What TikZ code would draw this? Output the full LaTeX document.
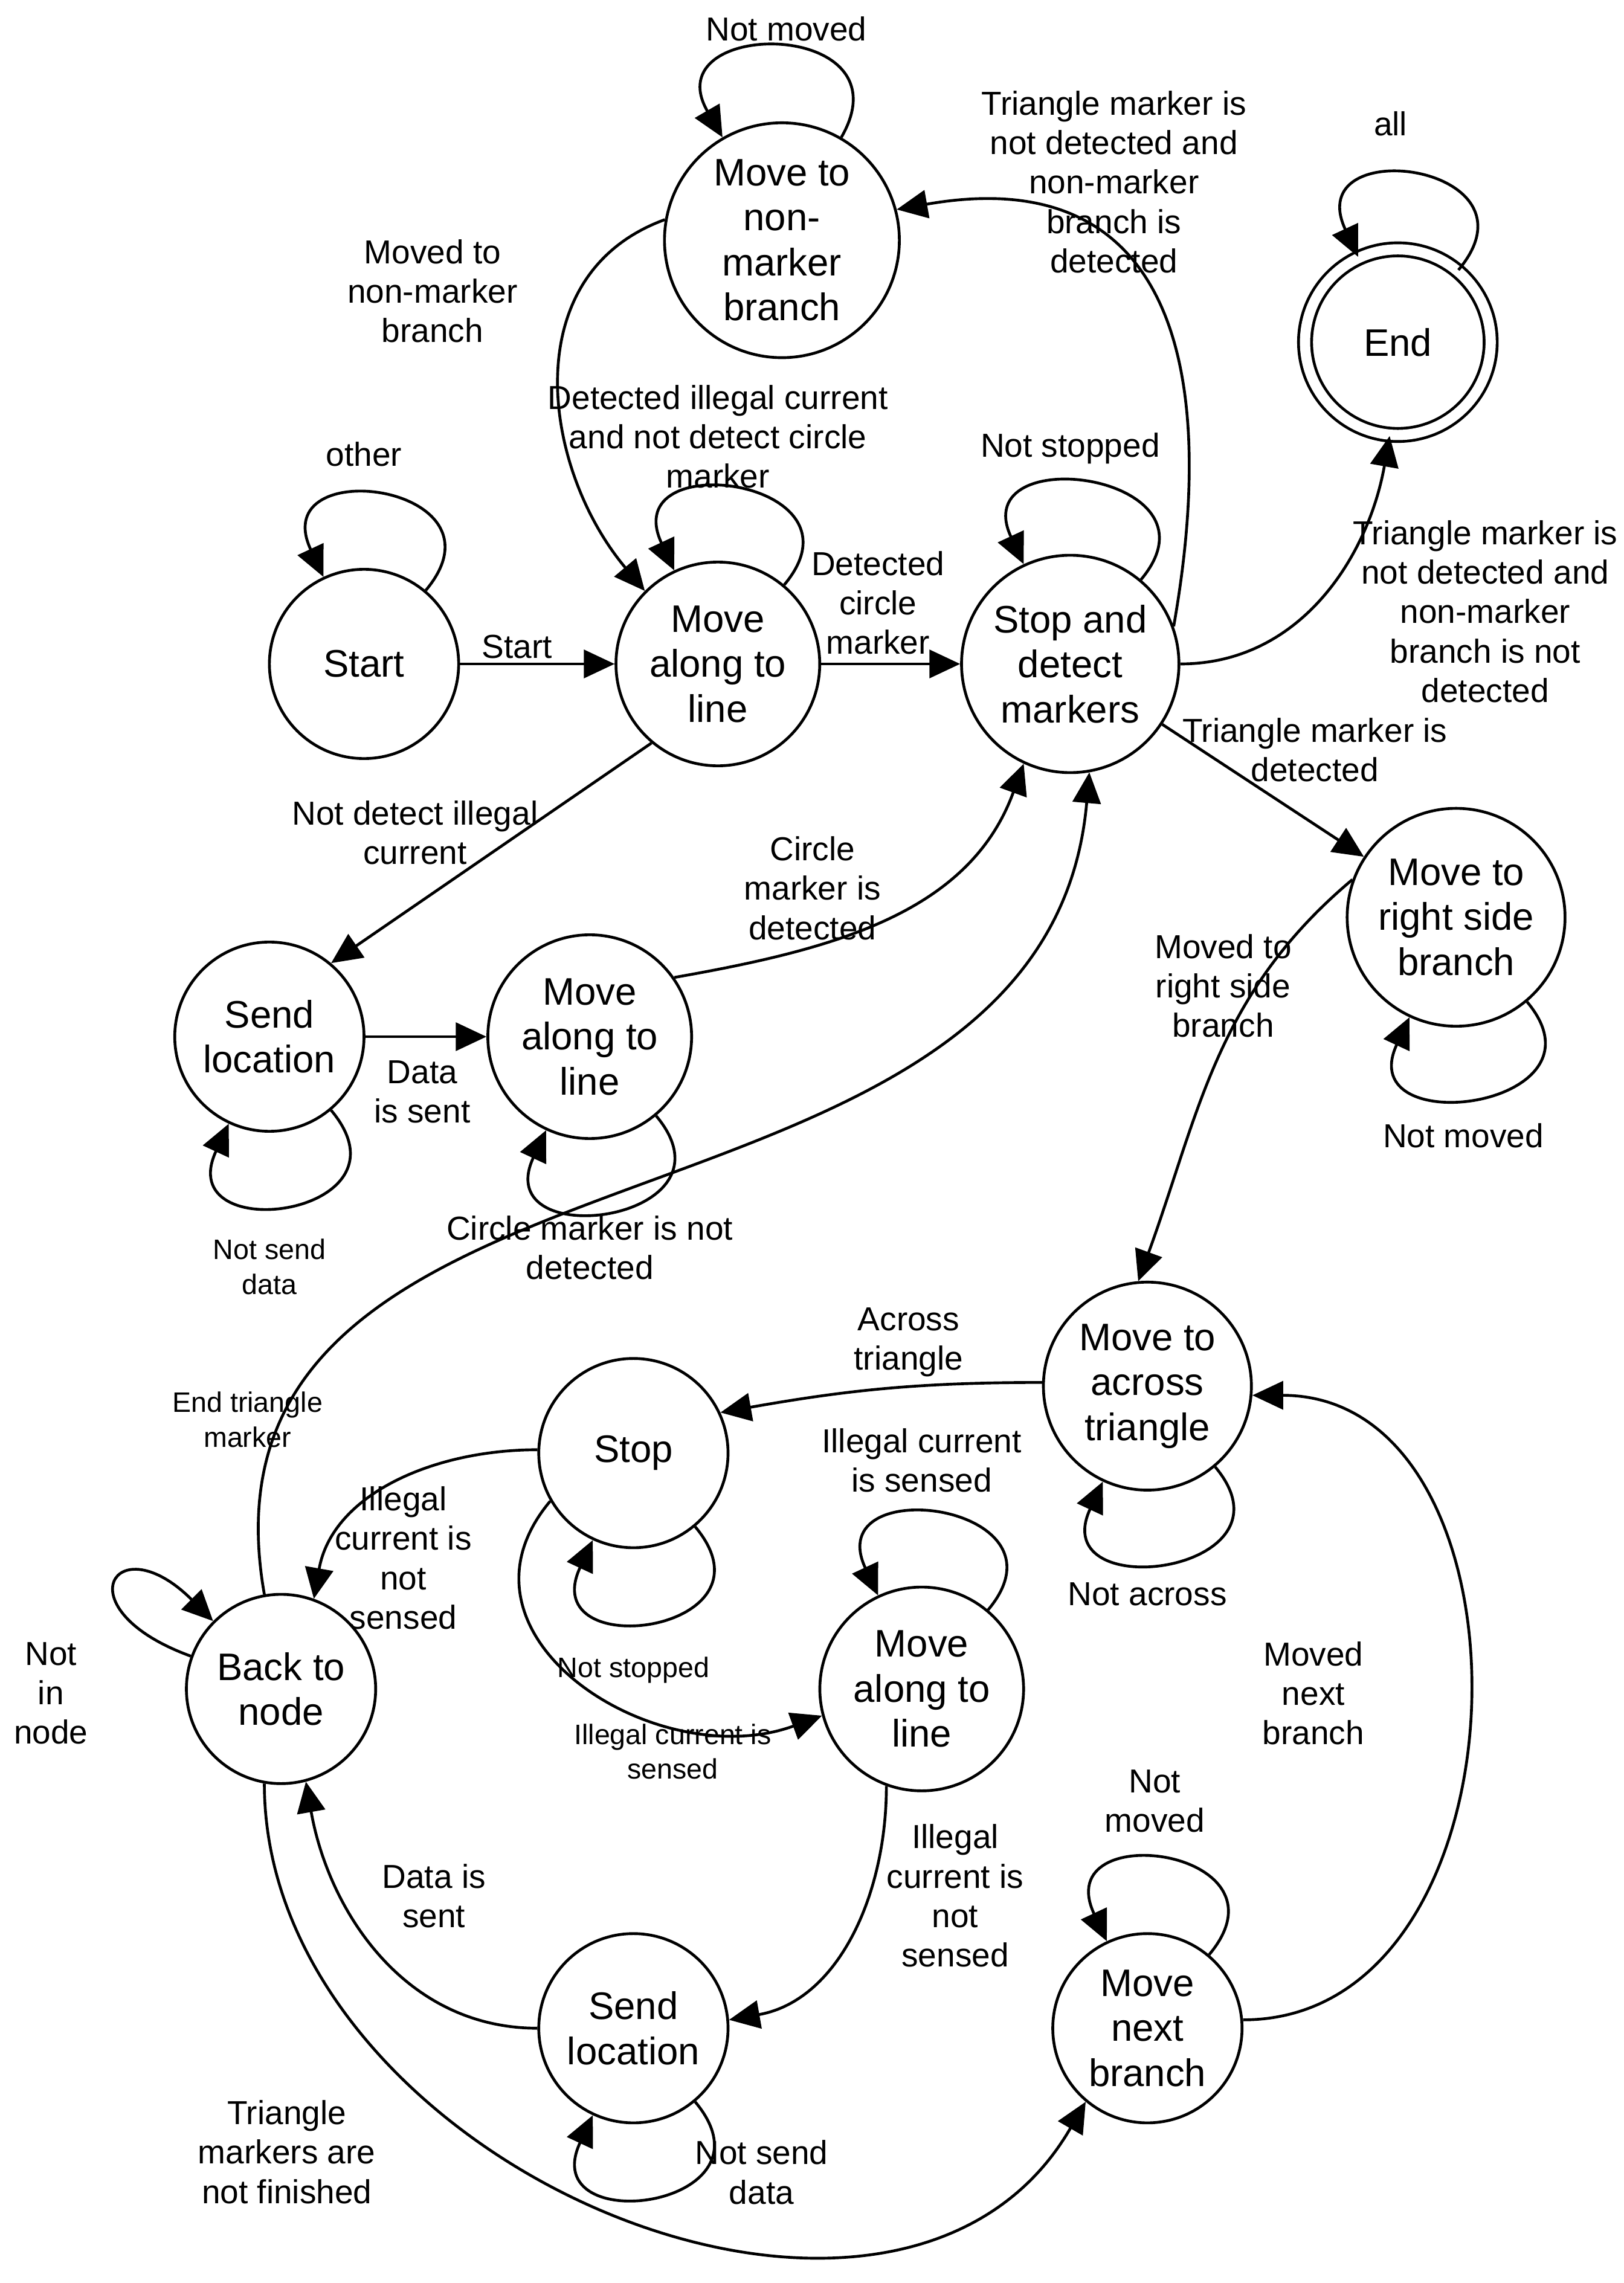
\documentclass[tikz,border=0pt]{standalone}
\usepackage{fontspec}
\setmainfont{Liberation Sans}
\usetikzlibrary{arrows.meta}

\tikzset{
  state/.style={circle, draw, line width=1.1pt, minimum size=2.6cm, align=center, font=\fontsize{15}{17.6}\selectfont},
  trans/.style={line width=1.1pt, -{Triangle[length=12pt,width=11pt]}},
  lbl/.style={align=center, font=\fontsize{13}{15.4}\selectfont},
  small/.style={align=center, font=\fontsize{11}{13.6}\selectfont},
  selfloop/.style={trans, min distance=1.9cm}
}

\begin{document}
\begin{tikzpicture}[x=0.02cm, y=-0.02cm]
        \useasboundingbox (0,0) rectangle (1115,1568);
        % States
        \node[state] (nonmarker) at (537,165) {Move to\\non-\\marker\\branch};
        \node[state, double, double distance=4pt, minimum size=2.55cm] (end) at (960,235) {End};
        \node[state] (start) at (250,456) {Start};
        \node[state] (along1) at (493,456) {Move\\along to\\line};
        \node[state] (detect) at (735,456) {Stop and\\detect\\markers};
        \node[state] (right) at (1000,630) {Move to\\right side\\branch};
        \node[state] (send1) at (185,712) {Send\\location};
        \node[state] (along2) at (405,712) {Move\\along to\\line};
        \node[state] (across) at (788,952) {Move to\\across\\triangle};
        \node[state] (stop) at (435,998) {Stop};
        \node[state] (back) at (193,1160) {Back to\\node};
        \node[state] (along3) at (633,1160) {Move\\along to\\line};
        \node[state] (send2) at (435,1393) {Send\\location};
        \node[state] (next) at (788,1393) {Move\\next\\branch};
        % Self loops
        \draw[selfloop] (nonmarker) to[out=60,in=120] (nonmarker);
        \draw[selfloop] (start) to[out=50,in=115] (start);
        \draw[selfloop] (along1) to[out=50,in=115] (along1);
        \draw[selfloop] (detect) to[out=50,in=115] (detect);
        \draw[selfloop] (end) to[out=50,in=115] (end);
        \draw[selfloop] (right) to[out=-50,in=-115] (right);
        \draw[selfloop] (send1) to[out=-50,in=-115] (send1);
        \draw[selfloop] (along2) to[out=-50,in=-115] (along2);
        \draw[selfloop] (across) to[out=-50,in=-115] (across);
        \draw[selfloop] (stop) to[out=-50,in=-115] (stop);
        \draw[selfloop] (send2) to[out=-50,in=-115] (send2);
        \draw[selfloop] (along3) to[out=50,in=115] (along3);
        \draw[selfloop] (next) to[out=50,in=115] (next);
        \draw[selfloop] (back) to[out=160,in=135] (back);
        % Transitions
        \draw[trans] (start) -- (along1);
        \draw[trans] (along1) -- (detect);
        \draw[trans] (detect.20) to[out=80,in=10,looseness=1.4] (nonmarker.15);
        \draw[trans] (nonmarker.170) to[out=200,in=130,looseness=1.1] (along1.135);
        \draw[trans] (detect.0) to[out=0,in=-100] (end.-95);
        \draw[trans] (detect) -- (right);
        \draw[trans] (along1.-130) -- (send1.50);
        \draw[trans] (send1) -- (along2);
        \draw[trans] (along2.35) to[out=10,in=-110] (detect.-115);
        \draw[trans] (right.160) to[out=220,in=70] (across.95);
        \draw[trans] (across.178) to[out=180,in=10] (stop.25);
        \draw[trans] (stop.178) to[out=180,in=80] (back.70);
        \draw[trans] (stop.210) to[out=230,in=200,looseness=1.3] (along3.195);
        \draw[trans] (along3.-110) to[out=-90,in=10] (send2.5);
        \draw[trans] (send2.180) to[out=180,in=-80] (back.-75);
        \draw[trans] (back.100) to[out=100,in=-95,looseness=1.1] (detect.-80);
        \draw[trans] (back.-100) to[out=-90,in=-120,looseness=1.1] (next.-130);
        \draw[trans] (next.5) to[out=0,in=0,looseness=1.2] (across.-5);
        % Labels
        \node[lbl] (lnotmoved1) at (540,20) {Not moved};
        \node[lbl] (lother) at (250,312) {other};
        \node[lbl] (lall) at (955,85) {all};
        \node[lbl] (lillegal) at (493,300) {Detected illegal current\\and not detect circle\\marker};
        \node[lbl] (lnotstopped1) at (735,308) {Not stopped};
        \node[lbl] (lstart) at (355,444) {Start};
        \node[lbl] (lcircle) at (603,414) {Detected\\circle\\marker};
        \node[lbl] (ltrinon) at (765,125) {Triangle marker is\\not detected and\\non-marker\\branch is\\detected};
        \node[lbl] (lmovednon) at (297,200) {Moved to\\non-marker\\branch};
        \node[lbl] (ltrinot) at (1020,420) {Triangle marker is\\not detected and\\non-marker\\branch is not\\detected};
        \node[lbl] (ltri) at (903,515) {Triangle marker is\\detected};
        \node[lbl] (lnotdetect) at (285,572) {Not detect illegal\\current};
        \node[lbl] (lcircdet) at (558,610) {Circle\\marker is\\detected};
        \node[lbl] (lmovedright) at (840,677) {Moved to\\right side\\branch};
        \node[lbl] (lnotmoved2) at (1005,780) {Not moved};
        \node[lbl] (ldata1) at (290,750) {Data\\is sent};
        \node[small] (lnotsend1) at (185,870) {Not send\\data};
        \node[lbl] (lcircnot) at (405,857) {Circle marker is not\\detected};
        \node[lbl] (lacross) at (624,922) {Across\\triangle};
        \node[small] (lendtri) at (170,975) {End triangle\\marker};
        \node[lbl] (lnotacross) at (788,1095) {Not across};
        \node[lbl] (lillegalnot1) at (277,1070) {Illegal\\current is\\not\\sensed};
        \node[lbl] (lillegalsens) at (633,1003) {Illegal current\\is sensed};
        \node[small] (lnotstopped2) at (435,1147) {Not stopped};
        \node[small] (lillegalsens2) at (462,1203) {Illegal current is\\sensed};
        \node[lbl] (lnotin) at (35,1163) {Not\\in\\node};
        \node[lbl] (lmovednext) at (902,1163) {Moved\\next\\branch};
        \node[lbl] (lnotmoved3) at (793,1237) {Not\\moved};
        \node[lbl] (ldata2) at (298,1302) {Data is\\sent};
        \node[lbl] (lillegalnot2) at (656,1302) {Illegal\\current is\\not\\sensed};
        \node[lbl] (lnotsend2) at (523,1492) {Not send\\data};
        \node[lbl] (ltrifin) at (197,1478) {Triangle\\markers are\\not finished};
\end{tikzpicture}
\end{document}
